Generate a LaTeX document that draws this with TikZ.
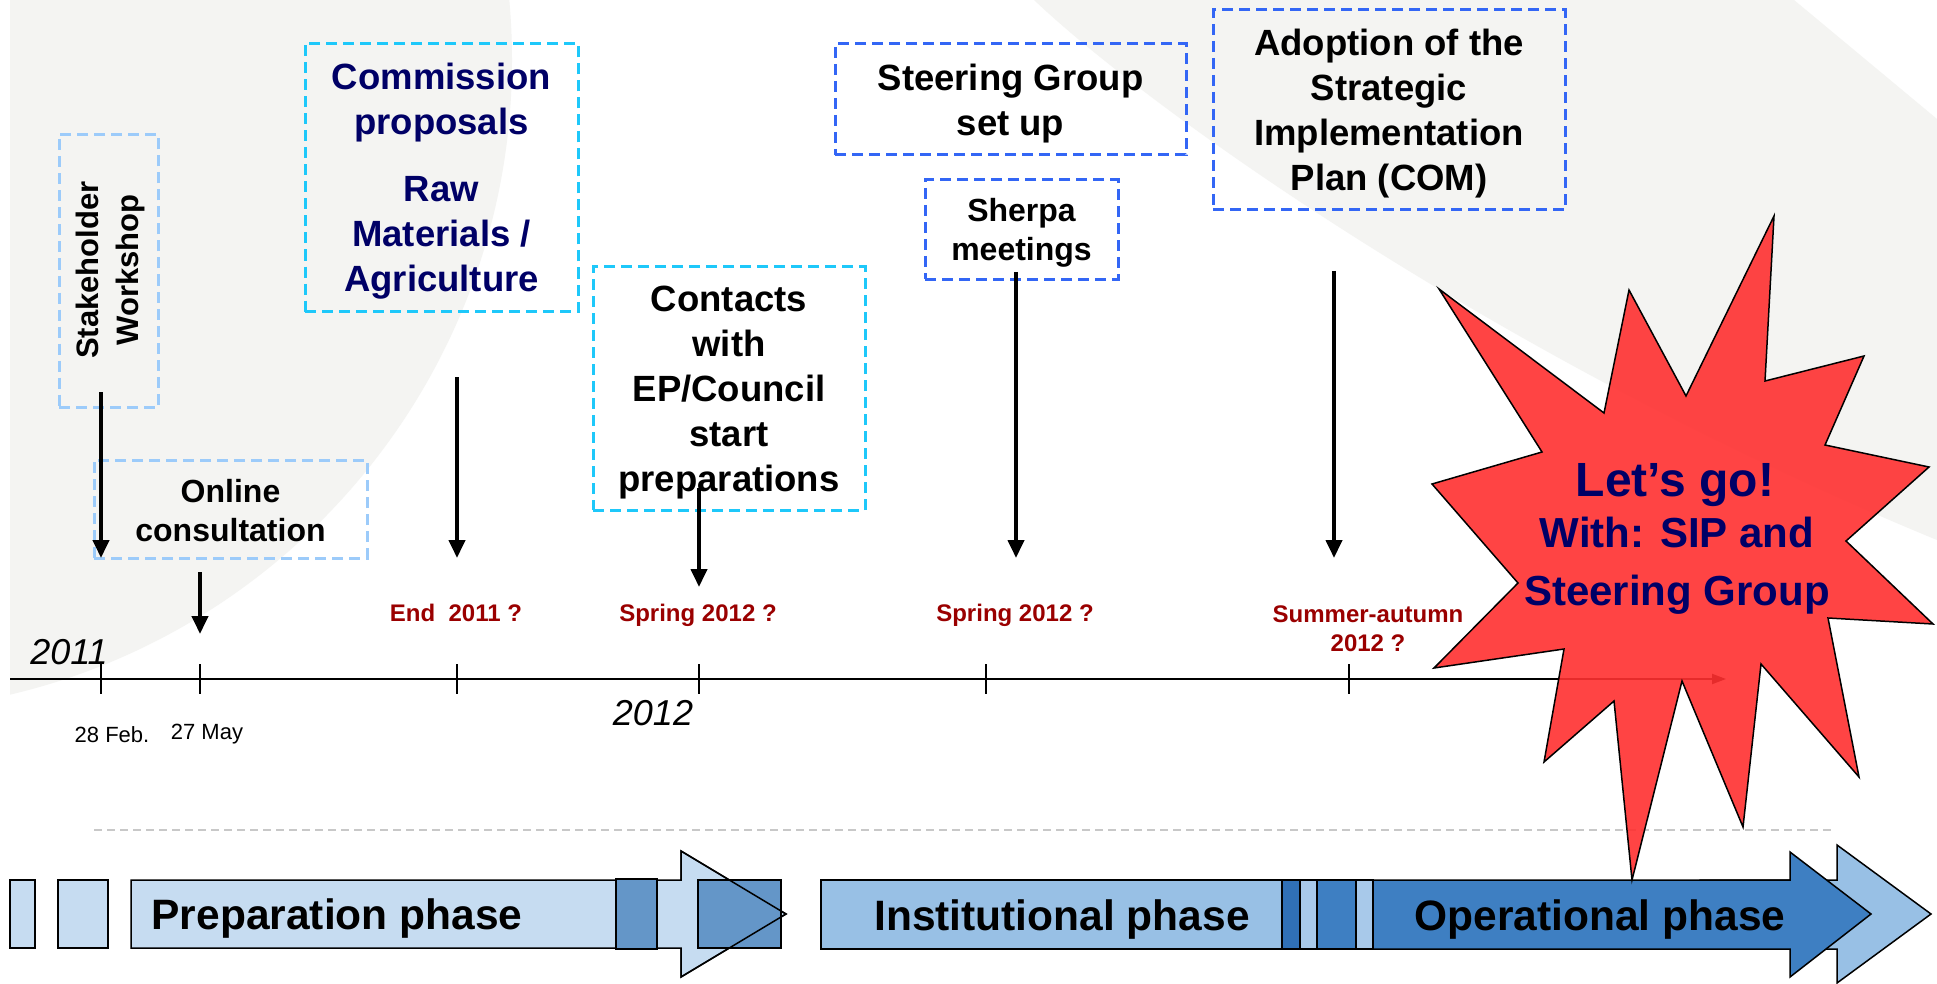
\documentclass[tikz,border=0pt]{standalone}
\usepackage{fontspec}
\setmainfont{Liberation Sans}
\usetikzlibrary{arrows.meta}
\definecolor{cyanbox}{HTML}{1EC8FA}
\definecolor{lightbox}{HTML}{9CCBFA}
\definecolor{bluebox}{HTML}{3366F5}
\definecolor{navy}{HTML}{000066}
\definecolor{datered}{HTML}{9A0000}
\definecolor{bggrey}{HTML}{F4F4F2}
\definecolor{starred}{HTML}{FF3030}
\definecolor{preplight}{HTML}{C6DCF1}
\definecolor{prepdark}{HTML}{6496C8}
\definecolor{instblue}{HTML}{98C0E5}
\definecolor{stripe}{HTML}{A8C9EA}
\definecolor{opblue}{HTML}{3E7FC2}
\definecolor{darkstrip}{HTML}{3070B6}
\definecolor{dashgrey}{HTML}{C8C8C8}
\begin{document}
\begin{tikzpicture}[x=1pt,y=-1pt,
  dbox/.style={draw, line width=3pt, dash pattern=on 11pt off 6pt, inner sep=0pt},
  boxtxt/.style={align=center, inner sep=0pt, font=\bfseries\fontsize{36.5}{45}\selectfont},
  smalltxt/.style={boxtxt, font=\bfseries\fontsize{32}{39}\selectfont},
  vline/.style={line width=4pt, -{Triangle[width=16pt,length=18pt]}},
  datelbl/.style={font=\bfseries\fontsize{24}{29}\selectfont, text=datered, anchor=base, inner sep=0pt},
  yearlbl/.style={font=\itshape\fontsize{36}{40}\selectfont, inner sep=0pt},
  daylbl/.style={font=\fontsize{22}{26}\selectfont, anchor=base, inner sep=0pt},
  barshape/.style={draw=black, line width=1.5pt},
  phasetxt/.style={font=\bfseries\fontsize{42.5}{48}\selectfont, anchor=base, inner sep=0pt},
  startxt/.style={font=\bfseries\fontsize{42}{50}\selectfont, text=navy, anchor=base, inner sep=0pt},
  tick/.style={line width=2pt},
]
\useasboundingbox (0,0) rectangle (1937,984);
\fill[white] (0,0) rectangle (1937,984);
% background shapes
\begin{scope}
\clip (10,0) rectangle (1937,984);
\fill[bggrey] (-140,60) circle[radius=652];
\end{scope}
\fill[bggrey] (1034,0) .. controls (1150,110) and (1500,360) .. (1937,540) -- (1937,119) -- (1794,0) -- cycle;

% boxes
\node[dbox, draw=lightbox, minimum width=99pt, minimum height=273pt] (stkbox) at (108.5,271) {};
\node[font=\bfseries\fontsize{31}{40}\selectfont, rotate=90, align=center, inner sep=0pt] (stktxt) at (110,270) {Stakeholder\\Workshop};
\node[dbox, draw=cyanbox, minimum width=273pt, minimum height=268pt] (combox) at (441.5,177.5) {};
\node[boxtxt, text=navy] (comtxt) at (441.5,181.5) {Commission\\proposals\\[22pt]Raw\\Materials /\\Agriculture};
\node[dbox, draw=lightbox, minimum width=273pt, minimum height=98pt] (onlbox) at (230.5,509) {};
\node[smalltxt] (onltxt) at (230.5,511) {Online\\consultation};
\node[dbox, draw=cyanbox, minimum width=272pt, minimum height=243pt] (conbox) at (729,388.5) {};
\node[boxtxt] (contxt) at (729,393) {Contacts\\with\\EP/Council\\start\\preparations};
\node[dbox, draw=bluebox, minimum width=351pt, minimum height=111pt] (stebox) at (1010.5,99.5) {};
\node[boxtxt] (stetxt) at (1010.5,103.5) {Steering Group\\set up};
\node[dbox, draw=bluebox, minimum width=193pt, minimum height=99pt] (shebox) at (1021.5,229.5) {};
\node[smalltxt] (shetxt) at (1021.5,233) {Sherpa\\meetings};
\node[dbox, draw=bluebox, minimum width=352pt, minimum height=200pt] (adobox) at (1389,110) {};
\node[boxtxt] (adotxt) at (1389,114) {Adoption of the\\Strategic\\Implementation\\Plan (COM)};

% timeline
\coordinate (tlstart) at (10,679);
\coordinate (tlend) at (1726,679);
\draw[line width=2pt, -{Triangle[width=10pt,length=14pt]}] (tlstart) -- (tlend);
\foreach \n/\xx in {1/101,2/200,3/457,4/699,5/986,6/1349}{
  \coordinate (tk\n) at (\xx,679);
  \draw[tick] (tk\n) ++(0,-15) -- ++(0,30);
}

% vertical arrows
\coordinate (a1s) at (101,392); \coordinate (a1e) at (101,558);
\coordinate (a2s) at (200,572); \coordinate (a2e) at (200,634);
\coordinate (a3s) at (457,377); \coordinate (a3e) at (457,558);
\coordinate (a4s) at (699,488); \coordinate (a4e) at (699,587);
\coordinate (a5s) at (1016,272); \coordinate (a5e) at (1016,558);
\coordinate (a6s) at (1334,271); \coordinate (a6e) at (1334,558);
\draw[vline] (a1s) -- (a1e);
\draw[vline] (a2s) -- (a2e);
\draw[vline] (a3s) -- (a3e);
\draw[vline] (a4s) -- (a4e);
\draw[vline] (a5s) -- (a5e);
\draw[vline] (a6s) -- (a6e);

% labels
\node[yearlbl] (y2011) at (69,652) {2011};
\node[yearlbl] (y2012) at (653,713) {2012};
\node[daylbl] (d28) at (112,742) {28 Feb.};
\node[daylbl] (d27) at (207,739) {27 May};
\node[datelbl] (dend) at (456,621) {End\ \ 2011 ?};
\node[datelbl] (dspr1) at (698,621) {Spring 2012 ?};
\node[datelbl] (dspr2) at (1015,621) {Spring 2012 ?};
\node[datelbl] (dsum1) at (1368,622) {Summer-autumn};
\node[datelbl] (dsum2) at (1368,651) {2012 ?};

% grey dashed separator
\coordinate (sepl) at (94,830); \coordinate (sepr) at (1834,830);
\draw[dashgrey, line width=2pt, dash pattern=on 8pt off 5pt] (sepl) -- (sepr);

% phase bars
\draw[barshape, fill=preplight] (10,880) rectangle (35,948);
\draw[barshape, fill=preplight] (58,880) rectangle (108,948);
\draw[barshape, fill=preplight] (131,880) -- (681,880) -- (681,851) -- (786,914) -- (681,977) -- (681,948) -- (131,948) -- cycle;
\draw[barshape, fill=prepdark] (616,879) rectangle (657,949);
\draw[barshape, fill=prepdark] (698,880) rectangle (781,948);
\draw[barshape] (681,880) -- (681,851) -- (786,914) -- (681,977) -- (681,948);
\node[phasetxt] (prep) at (337,929) {Preparation phase};

\draw[barshape, fill=instblue] (821,880) rectangle (1282,949);
\draw[barshape, fill=darkstrip] (1282,880) rectangle (1300,949);
\draw[barshape, fill=stripe] (1300,880) rectangle (1317,949);
\draw[barshape, fill=opblue] (1317,880) rectangle (1356,949);
\draw[barshape, fill=stripe] (1356,880) rectangle (1373,949);
\draw[barshape, fill=instblue] (1700,880) -- (1837,880) -- (1837,845) -- (1931,914) -- (1837,983) -- (1837,949) -- (1700,949) -- cycle;
\draw[barshape, fill=opblue] (1373,880) -- (1790,880) -- (1790,852) -- (1871,914) -- (1790,977) -- (1790,949) -- (1373,949) -- cycle;
\node[phasetxt] (inst) at (1062,930) {Institutional phase};
\node[phasetxt] (oper) at (1600,930) {Operational phase};

% starburst
\draw[line width=1.5pt, fill=starred, fill opacity=0.9, draw opacity=1]
  (1774,216) -- (1765,381) -- (1864,356) -- (1825,445) -- (1929,467) -- (1846,541)
  -- (1933,624) -- (1828,618) -- (1859,777) -- (1761,664) -- (1743,827) -- (1682,681)
  -- (1632,880) -- (1614,701) -- (1544,762) -- (1564,649) -- (1434,668) -- (1518,583)
  -- (1432,484) -- (1542,452) -- (1439,289) -- (1604,413) -- (1629,290) -- (1686,396) -- cycle;
\node[startxt, font=\bfseries\fontsize{48}{56}\selectfont] (go) at (1675,496) {Let’s go!};
\node[startxt] (with) at (1677,547) {With: SIP and};
\node[startxt] (steer) at (1677,605) {Steering Group};
\end{tikzpicture}
\end{document}
